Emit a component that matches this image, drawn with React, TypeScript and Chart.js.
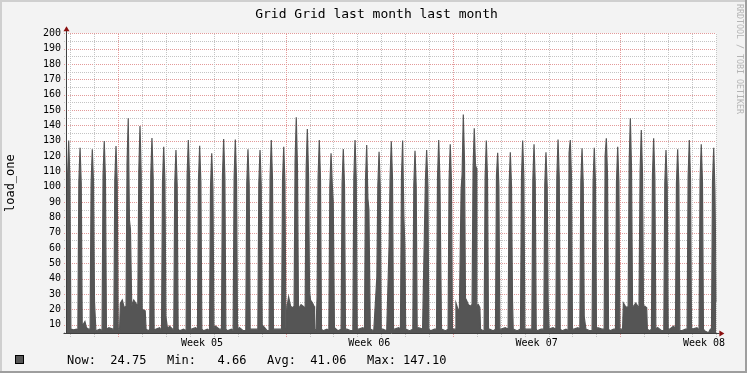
import React, { useEffect, useRef } from "react";
import { Chart, registerables } from "chart.js";

Chart.register(...registerables);

const titleText = "Grid Grid last month last month";
const yAxisTitle = "load_one";
const watermark = "RRDTOOL / TOBI OETIKER";

// hours since the start of the graph (x axis unit)
const spikeHour = [1.7, 13.1, 25.4, 37.4, 49.2, 61.5, 73.3, 85.3, 97.1, 109.4, 121.8, 133.2, 145.3, 157.3, 169.0, 181.7, 193.8, 205.1, 217.6, 230.2, 241.3, 253.3, 265.1, 277.4, 289.2, 300.9, 313.3, 325.6, 337.0, 349.4, 361.1, 373.2, 384.8, 397.9, 408.9, 421.0, 432.4, 445.1, 457.5, 468.9, 480.9, 493.0, 505.3, 517.1, 529.4, 541.5, 552.9, 565.6, 576.6, 589.0, 601.4, 613.1, 624.8, 636.8, 649.3];
const spikePeak = [130.0, 125.4, 124.3, 129.7, 126.5, 144.5, 139.5, 131.7, 126.0, 123.9, 130.4, 126.7, 121.7, 131.0, 130.7, 124.3, 123.9, 130.4, 126.0, 145.2, 137.6, 130.4, 121.7, 124.5, 130.4, 127.1, 122.8, 129.5, 130.0, 123.4, 123.9, 130.4, 127.6, 147.1, 138.0, 130.0, 122.1, 122.4, 130.0, 127.6, 122.4, 130.7, 130.4, 125.0, 125.4, 131.5, 126.0, 144.5, 136.9, 131.5, 123.9, 124.3, 130.4, 127.6, 125.4];
const spikeRise = [106, 103, 102, 107, 104, 115, 110, 107, 103, 102, 107, 104, 100, 107, 106, 102, 102, 106, 104, 116, 111, 106, 100, 102, 106, 104, 101, 106, 106, 101, 105, 106, 104, 108, 112, 106, 107, 101, 106, 104, 101, 106, 122, 103, 103, 120, 103, 115, 110, 107, 102, 102, 106, 104, 103];
const spikeFall = [105, 102, 103, 105, 103, 78, 108, 106, 104, 101, 106, 103, 99, 106, 105, 101, 101, 105, 103, 112, 108, 105, 102, 101, 105, 92, 100, 105, 80, 100, 101, 105, 103, 116, 114, 105, 100, 100, 105, 103, 100, 106, 106, 102, 102, 107, 103, 111, 108, 106, 101, 101, 105, 103, 98];
const spikeLead = [7, 6, 7, 6, 7, 22, 24, 7, 6, 7, 6, 7, 6, 7, 6, 6, 7, 6, 7, 22, 21, 28, 6, 7, 6, 7, 41, 62, 7, 7, 72, 7, 7, 98, 23, 6, 7, 7, 7, 7, 7, 7, 6, 7, 6, 7, 7, 22, 21, 7, 6, 7, 7, 6, 7];
const spikeTail = [7, 9, 25, 7, 8, 72, 20, 6, 15, 7, 7, 7, 8, 7, 7, 7, 6, 7, 8, 21, 32, 7, 90, 7, 7, 85, 7, 7, 62, 7, 7, 42, 6, 24, 112, 7, 7, 25, 7, 7, 24, 7, 7, 15, 7, 7, 7, 22, 22, 7, 7, 6, 8, 7, 45];
// hour offsets of the shoulder and foot samples around each peak
const spikeShoulderOffset = 1.2;
const spikeFootOffset = 2.2;

const baseHour = [6.7, 9.5, 18, 19.5, 21.8, 29, 33, 42, 46, 51.5, 52.8, 53.6, 55.5, 57.5, 65, 67, 69, 70.8, 76, 78.5, 79.4, 82, 89, 93, 101, 103, 106, 113, 117, 125, 129, 137, 141, 149, 153, 161, 165, 173, 177, 185, 189, 197, 201, 209, 213, 220.4, 221, 222.5, 224.5, 226.5, 233, 235, 237, 238.5, 244.5, 246.5, 248, 248.6, 250, 257, 261, 268.5, 272, 281, 285, 293, 297, 304.5, 308, 317, 321, 329, 333, 340, 344, 353, 357, 365, 369, 376, 380, 388, 389.8, 390.5, 392.5, 394, 401, 403, 405, 406.5, 411.5, 413, 414.5, 415.2, 418, 424, 428, 436, 440, 448, 452, 461, 465, 472, 476, 484, 488, 497, 501, 509, 513, 521, 525, 533, 537, 545, 549, 556, 557.8, 558.6, 560.5, 562.5, 569, 571, 573, 574.3, 580, 582, 582.7, 585, 593, 597, 605, 609, 617, 621, 628, 632.5, 640, 644, 646, 652];
const baseLoad = [6.5, 7, 12, 8, 7, 6, 7, 8, 7, 7, 7, 24, 26, 21, 22, 26, 24, 22, 20, 19, 7, 6, 7, 8, 7, 9, 7, 6, 7, 7, 8, 6, 7, 9, 7, 6, 7, 8, 6, 7, 7, 9, 6, 7, 7, 7, 22, 28, 22, 21, 21, 23, 22, 21, 26, 24, 22, 7, 6, 6, 7, 8, 6, 7, 6, 7, 8, 7, 6, 7, 6, 7, 8, 7, 6, 8, 7, 6, 7, 7, 6, 7, 7, 24, 20, 20, 26, 23, 22, 23, 22, 23, 21, 7, 6, 7, 6, 7, 8, 7, 6, 7, 7, 6, 7, 7, 8, 6, 7, 7, 8, 7, 6, 8, 7, 6, 7, 7, 7, 24, 22, 21, 22, 24, 22, 21, 22, 21, 7, 6, 8, 6, 7, 9, 6, 7, 7, 8, 6, 4.66, 7, 24.75];

const xMinHour = 0;
const xMaxHour = 652;
const dayGridHours = [3.5, 27.5, 51.5, 75.5, 99.5, 123.5, 147.5, 171.5, 195.5, 219.5, 243.5, 267.5, 291.5, 315.5, 339.5, 363.5, 387.5, 411.5, 435.5, 459.5, 483.5, 507.5, 531.5, 555.5, 579.5, 603.5, 627.5, 651.5];
const weekStartHours = [51.5, 219.5, 387.5, 555.5];
const weekLabelHours = [135.5, 303.5, 471.5, 639.5];
const weekLabels = ["Week 05", "Week 06", "Week 07", "Week 08"];

const yMin = 4.5;
const yMax = 200;
const yMajorTicks = [10, 20, 30, 40, 50, 60, 70, 80, 90, 100, 110, 120, 130, 140, 150, 160, 170, 180, 190, 200];
const yMinorTicks = [5, 15, 25, 35, 45, 55, 65, 75, 85, 95, 105, 115, 125, 135, 145, 155, 165, 175, 185, 195];

const legendItems = ["Now:  24.75", "Min:   4.66", "Avg:  41.06", "Max: 147.10"];

const AREA = "#555555";
const MINOR = "#c4c4c4";
const MAJOR = "#e39a9a";
const MONO = '"DejaVu Sans Mono", monospace';

function buildPoints() {
  const pts: { x: number; y: number }[] = [];
  spikeHour.forEach((h, i) => {
    pts.push({ x: h - spikeFootOffset, y: spikeLead[i] });
    pts.push({ x: h - spikeShoulderOffset, y: spikeRise[i] });
    pts.push({ x: h, y: spikePeak[i] });
    pts.push({ x: h + spikeShoulderOffset, y: spikeFall[i] });
    pts.push({ x: h + spikeFootOffset, y: spikeTail[i] });
  });
  baseHour.forEach((h, i) => pts.push({ x: h, y: baseLoad[i] }));
  pts.sort((a, b) => a.x - b.x);
  return pts;
}

const rrdPlugin = {
  id: "rrdFrame",
  beforeDraw(chart: any) {
    const { ctx, chartArea: a, width, height } = chart;
    ctx.save();
    ctx.fillStyle = "#9e9e9e";
    ctx.fillRect(0, 0, width, height);
    ctx.fillStyle = "#cfcfcf";
    ctx.fillRect(0, 0, width - 2, height - 2);
    ctx.fillStyle = "#f3f3f3";
    ctx.fillRect(2, 2, width - 4, height - 4);
    ctx.fillStyle = "#ffffff";
    ctx.fillRect(a.left, a.top, a.right - a.left, a.bottom - a.top);
    ctx.restore();
  },
  beforeDatasetsDraw(chart: any) {
    const { ctx, chartArea: a, scales } = chart;
    const xs = scales.x;
    const ys = scales.y;
    const top = Math.round(a.top);
    const bottom = Math.round(a.bottom);
    const left = Math.round(a.left);
    const right = Math.round(a.right);
    ctx.save();
    [...yMinorTicks, ...yMajorTicks].forEach((v) => {
      const py = Math.round(ys.getPixelForValue(v));
      ctx.fillStyle = yMajorTicks.includes(v) ? MAJOR : MINOR;
      for (let x = left - 3; x < right; x += 2) ctx.fillRect(x, py, 1, 1);
    });
    dayGridHours.forEach((h) => {
      const px = Math.round(xs.getPixelForValue(h));
      ctx.fillStyle = weekStartHours.includes(h) ? MAJOR : MINOR;
      for (let y = bottom + 3; y > top; y -= 2) ctx.fillRect(px, y, 1, 1);
    });
    ctx.restore();
  },
  afterDraw(chart: any) {
    const { ctx, chartArea: a } = chart;
    ctx.save();
    const ax = Math.round(a.left) - 0.5;
    const ay = Math.round(a.bottom) + 0.5;
    ctx.strokeStyle = "#404040";
    ctx.lineWidth = 1;
    ctx.beginPath();
    ctx.moveTo(ax, ay);
    ctx.lineTo(ax, a.top - 3);
    ctx.moveTo(ax - 3, ay);
    ctx.lineTo(a.right + 3, ay);
    ctx.stroke();
    ctx.fillStyle = "#8b1010";
    ctx.beginPath();
    ctx.moveTo(ax, a.top - 7);
    ctx.lineTo(ax - 3, a.top - 2);
    ctx.lineTo(ax + 3, a.top - 2);
    ctx.closePath();
    ctx.fill();
    ctx.beginPath();
    ctx.moveTo(a.right + 8, ay);
    ctx.lineTo(a.right + 3, ay - 3);
    ctx.lineTo(a.right + 3, ay + 3);
    ctx.closePath();
    ctx.fill();

    ctx.fillStyle = "#000";
    ctx.font = `13px ${MONO}`;
    ctx.textAlign = "center";
    ctx.textBaseline = "alphabetic";
    ctx.fillText(titleText, 376.5, 18);

    ctx.save();
    ctx.translate(10.5, (a.top + a.bottom) / 2);
    ctx.rotate(-Math.PI / 2);
    ctx.font = `12px ${MONO}`;
    ctx.textAlign = "center";
    ctx.textBaseline = "middle";
    ctx.fillText(yAxisTitle, 0, 0);
    ctx.restore();

    ctx.save();
    ctx.translate(739, 4);
    ctx.rotate(Math.PI / 2);
    ctx.font = `8.3px ${MONO}`;
    ctx.fillStyle = "#b4b4b4";
    ctx.textAlign = "left";
    ctx.textBaseline = "middle";
    ctx.fillText(watermark, 0, 0);
    ctx.restore();

    ctx.fillStyle = AREA;
    ctx.fillRect(15.5, 355.5, 8, 8);
    ctx.strokeStyle = "#000";
    ctx.strokeRect(15.5, 355.5, 8, 8);
    ctx.fillStyle = "#000";
    ctx.font = `12px ${MONO}`;
    ctx.textAlign = "left";
    ctx.textBaseline = "alphabetic";
    legendItems.forEach((t, i) => ctx.fillText(t, 67 + i * 100, 363.5));
    ctx.restore();
  },
};

export default function App() {
  const ref = useRef<HTMLCanvasElement | null>(null);
  useEffect(() => {
    document.body.style.margin = "0";
    const canvas = ref.current;
    if (!canvas) return;
    const chart = new Chart(canvas, {
      type: "line",
      data: {
        datasets: [
          {
            data: buildPoints(),
            borderColor: AREA,
            backgroundColor: AREA,
            borderWidth: 1.2,
            pointRadius: 0,
            tension: 0,
            fill: "start",
          },
        ],
      },
      options: {
        animation: false,
        responsive: false,
        devicePixelRatio: 1,
        events: [],
        layout: { padding: { top: 33.3, right: 30.6, left: 0, bottom: 0 } },
        plugins: {
          legend: { display: false },
          tooltip: { enabled: false },
          title: { display: false },
        },
        scales: {
          x: {
            type: "linear",
            position: "bottom",
            min: xMinHour,
            max: xMaxHour,
            afterBuildTicks: (s: any) => {
              s.ticks = dayGridHours.map((v) => ({ value: v }));
            },
            afterFit: (s: any) => {
              s.height = 0;
            },
            ticks: { display: false, autoSkip: false },
            grid: { display: false, drawTicks: false },
            border: { display: false },
          },
          x2: {
            type: "linear",
            position: "bottom",
            min: xMinHour,
            max: xMaxHour,
            afterBuildTicks: (s: any) => {
              s.ticks = weekLabelHours.map((v) => ({ value: v }));
            },
            afterFit: (s: any) => {
              s.height = 40;
            },
            ticks: {
              autoSkip: false,
              maxRotation: 0,
              padding: 4,
              color: "#000",
              font: { family: MONO, size: 10 },
              callback: (_v: any, i: number) => weekLabels[i],
            },
            grid: { display: false, drawTicks: false },
            border: { display: false },
          },
          y: {
            type: "linear",
            min: yMin,
            max: yMax,
            afterBuildTicks: (s: any) => {
              s.ticks = yMajorTicks.map((v) => ({ value: v }));
            },
            afterFit: (s: any) => {
              s.width = 67;
            },
            ticks: {
              autoSkip: false,
              padding: 6,
              color: "#000",
              font: { family: MONO, size: 10 },
              callback: (v: any) => String(v),
            },
            grid: { display: false, drawTicks: false },
            border: { display: false },
          },
        },
      },
      plugins: [rrdPlugin],
    });
    return () => chart.destroy();
  }, []);
  return <canvas ref={ref} width={747} height={373} style={{ display: "block" }} />;
}
